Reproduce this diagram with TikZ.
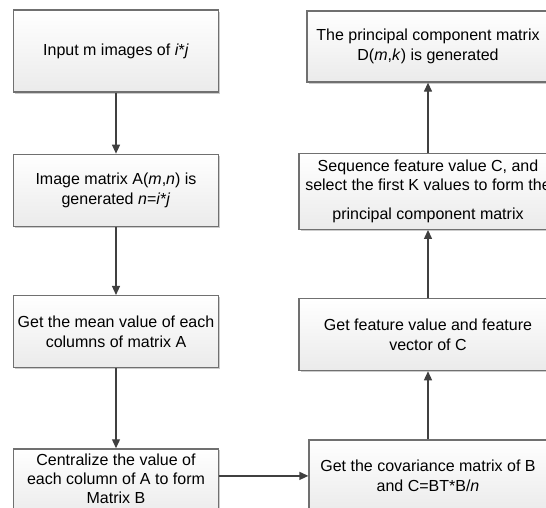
\documentclass[tikz,border=0pt]{standalone}
\usepackage{fontspec}
\setmainfont{Liberation Sans}
\usetikzlibrary{positioning,arrows.meta,shadows}
\definecolor{boxline}{HTML}{707070}
\definecolor{arrowline}{HTML}{404040}
\tikzset{
  stage/.style={rectangle, draw=boxline, line width=1.3pt, top color=white, bottom color=black!8,
    drop shadow={shadow xshift=1.5pt, shadow yshift=-1.5pt, fill=black!20, opacity=1},
    align=center, inner sep=0pt, font=\fontsize{16}{19.5}\selectfont},
  connect/.style={-{Triangle[length=9pt,width=8pt]}, line width=1.3pt, draw=arrowline, fill=arrowline}
}

\begin{document}
\begin{tikzpicture}[x=1pt,y=-1pt]
  \useasboundingbox (0,0) rectangle (546,507);

  % left column, top to bottom
  \node[stage, minimum width=205pt, minimum height=82pt] (in) at (116,51) {Input m images of \textit{i}*\textit{j}};
  \node[stage, minimum width=205pt, minimum height=72pt] (mat) [below=61pt of in]
    {Image matrix A(\textit{m},\textit{n}) is\\ generated \textit{n}=\textit{i}*\textit{j}};
  \node[stage, minimum width=205pt, minimum height=72pt] (mean) [below=68pt of mat]
    {Get the mean value of each\\ columns of matrix A};
  \node[stage, minimum width=205pt, minimum height=68pt, font=\fontsize{16}{19}\selectfont] (cen) [below=80pt of mean]
    {Centralize the value of\\ each column of A to form\\ Matrix B\\[-10pt]\mbox{}};

  % right column, top to bottom
  \node[stage, minimum width=242pt, minimum height=71pt] (pc) at (428,46.5)
    {The principal component matrix\\ D(\textit{m},\textit{k}) is generated};
  \node[stage, minimum width=258pt, minimum height=76pt] (seq) [below=70pt of pc]
    {Sequence feature value C, and\\ select the first K values to form the\\[9pt] principal component matrix};
  \node[stage, minimum width=258pt, minimum height=72pt] (feat) [below=68pt of seq]
    {Get feature value and feature\\ vector of C};
  \node[stage, minimum width=238pt, minimum height=72pt] (cov) [below=68pt of feat]
    {Get the covariance matrix of B\\ and C=BT*B/\textit{n}};

  \draw[connect] (in) -- (mat);
  \draw[connect] (mat) -- (mean);
  \draw[connect] (mean) -- (cen);
  \draw[connect] (cen.east |- cov.west) -- (cov.west);
  \draw[connect] (cov) -- (feat);
  \draw[connect] (feat) -- (seq);
  \draw[connect] (seq) -- (pc);
\end{tikzpicture}
\end{document}
